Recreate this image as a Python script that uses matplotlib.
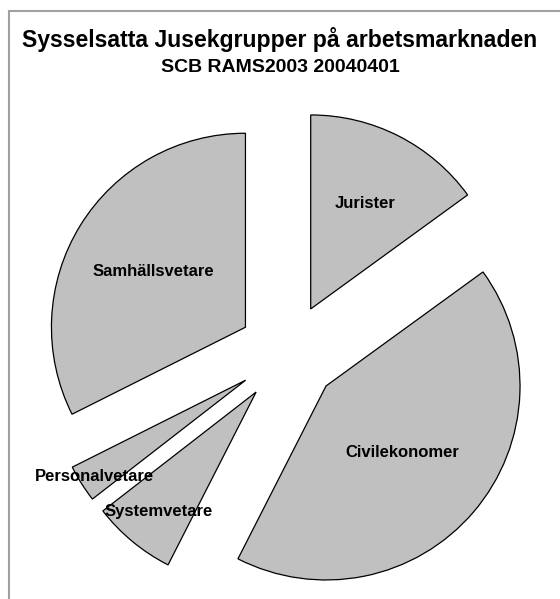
import matplotlib.pyplot as plt
import numpy as np
from matplotlib.patches import Rectangle

# Share of employed per Jusek group (percent)
groups = ['Jurister', 'Civilekonomer', 'Systemvetare', 'Personalvetare', 'Samhällsvetare']
shares = [15.0, 42.5, 7.0, 3.1, 32.4]
# how far out along each slice the label sits (fraction of radius)
label_pos = [0.62, 0.52, 0.79, 0.92, 0.56]

plt.rcParams['font.family'] = ['Liberation Sans', 'DejaVu Sans']

W, H = 560, 599
fig = plt.figure(figsize=(W / 100, H / 100), dpi=100)

# pie centre and radius in pixels
cx, cy, rad = 288, 353.5, 194
ax = fig.add_axes([0, 0, 1, 1])

wedges, _ = ax.pie(shares, startangle=90, counterclock=False,
                   colors=['#c0c0c0'] * len(shares),
                   explode=[50 / rad] * len(shares),
                   wedgeprops=dict(edgecolor='black', linewidth=0.9))
ax.set_aspect('auto')
ax.set_xlim(-cx / rad, (W - cx) / rad)
ax.set_ylim(-(H - cy) / rad, cy / rad)
ax.axis('off')

for w, name, frac in zip(wedges, groups, label_pos):
    mid = np.deg2rad((w.theta1 + w.theta2) / 2)
    x0, y0 = w.center
    ax.text(x0 + frac * w.r * np.cos(mid), y0 + frac * w.r * np.sin(mid), name,
            ha='center', va='center_baseline', fontsize=12, fontweight='bold')

# grey frame (only top and left edges are visible)
fig.patches.append(Rectangle((8.5 / W, -0.1), 1.2, 1.1 - 11.5 / H,
                             transform=fig.transFigure, fill=False,
                             edgecolor='#a0a0a0', linewidth=1.5))

fig.text(0.5, 1 - 39 / H, 'Sysselsatta Jusekgrupper på arbetsmarknaden',
         ha='center', va='center', fontsize=16.6, fontweight='bold')
fig.text(0.5, 1 - 67 / H, 'SCB RAMS2003 20040401',
         ha='center', va='center', fontsize=14, fontweight='bold')

fig.savefig('out.png', dpi=100)
